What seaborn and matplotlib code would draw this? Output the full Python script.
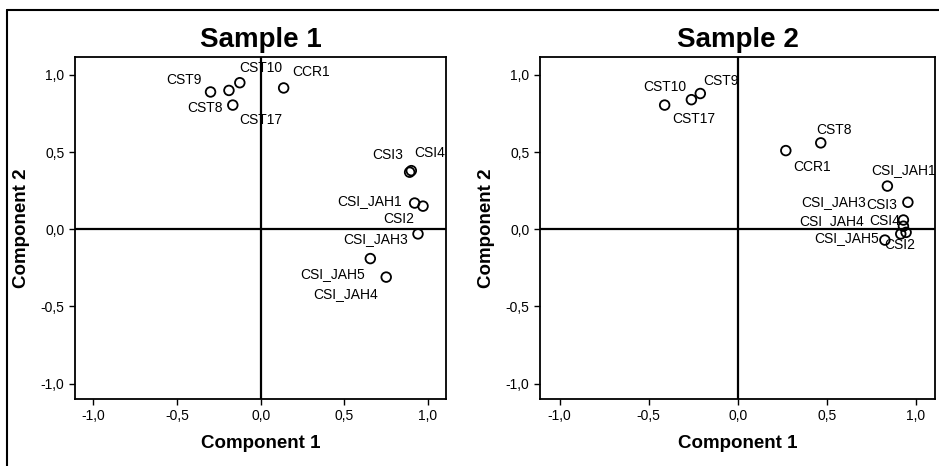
import matplotlib
matplotlib.use("Agg")
import matplotlib.pyplot as plt
from matplotlib.lines import Line2D
import seaborn as sns
import pandas as pd

# ---- data ----
s1_labels = ["CST9", "CST8", "CST10", "CST17", "CCR1", "CSI3", "CSI4",
             "CSI_JAH1", "CSI2", "CSI_JAH3", "CSI_JAH5", "CSI_JAH4"]
s1_comp1 = [-0.30, -0.19, -0.125, -0.167, 0.137, 0.89, 0.90,
            0.92, 0.97, 0.94, 0.655, 0.75]
s1_comp2 = [0.89, 0.90, 0.95, 0.805, 0.916, 0.37, 0.38,
            0.17, 0.15, -0.03, -0.19, -0.31]

s2_labels = ["CST10", "CST17", "CST9", "CCR1", "CST8", "CSI_JAH1", "CSI3",
             "CSI_JAH3", "CSI4", "CSI_JAH4", "CSI2", "CSI_JAH5"]
s2_comp1 = [-0.41, -0.26, -0.21, 0.27, 0.466, 0.84, 0.955,
            0.93, 0.93, 0.915, 0.945, 0.826]
s2_comp2 = [0.805, 0.84, 0.88, 0.51, 0.56, 0.28, 0.175,
            0.06, 0.02, -0.03, -0.02, -0.07]

tick_values = [-1.0, -0.5, 0.0, 0.5, 1.0]
tick_labels = ["-1,0", "-0,5", "0,0", "0,5", "1,0"]
titles = ["Sample 1", "Sample 2"]

# label offsets (pixels) relative to each point
s1_offsets = [(-27, 12), (-24, -18), (21, 15), (28, -15), (27, 16), (-22, 17),
              (18, 18), (-45, 2), (-24, -13), (-42, -5), (-38, -15), (-41, -17)]
s2_offsets = [(0, 18), (2, -19), (21, 13), (26, -16), (13, 13), (16, 16),
              (-26, -3), (-70, 18), (-19, 5), (-69, 13), (-6, -13), (-38, 2)]

sns.set_style("white")
plt.rcParams["font.family"] = ["Liberation Sans", "DejaVu Sans"]
plt.rcParams["text.color"] = "black"
plt.rcParams["axes.labelcolor"] = "black"
plt.rcParams["axes.titlecolor"] = "black"

fig = plt.figure(figsize=(9.39, 4.66), dpi=100)
ax1 = fig.add_axes([0.0799, 0.1438, 0.395, 0.734])
ax2 = fig.add_axes([0.575, 0.1438, 0.4207, 0.734])

datasets = [
    (ax1, s1_labels, s1_comp1, s1_comp2, s1_offsets, titles[0]),
    (ax2, s2_labels, s2_comp1, s2_comp2, s2_offsets, titles[1]),
]

for ax, labels, c1, c2, offs, title in datasets:
    df = pd.DataFrame({"Component 1": c1, "Component 2": c2, "label": labels})
    ax.axhline(0, color="black", lw=1.6, zorder=1)
    ax.axvline(0, color="black", lw=1.6, zorder=1)
    sns.scatterplot(data=df, x="Component 1", y="Component 2", ax=ax,
                    marker="o", s=48, facecolor="none", edgecolor="black",
                    linewidth=1.3, zorder=3)
    for (lab, x, y), (dx, dy) in zip(zip(labels, c1, c2), offs):
        ax.annotate(lab, (x, y), xytext=(dx, dy), textcoords="offset pixels",
                    ha="center", va="center", fontsize=10, color="black",
                    annotation_clip=False)
    ax.set_xlim(-1.11, 1.107)
    ax.set_ylim(-1.10, 1.117)
    ax.set_xticks(tick_values)
    ax.set_xticklabels(tick_labels)
    ax.set_yticks(tick_values)
    ax.set_yticklabels(tick_labels)
    ax.tick_params(axis="both", direction="out", length=4, width=1,
                   colors="black", labelsize=10, bottom=True, left=True,
                   top=False, right=False)
    for sp in ax.spines.values():
        sp.set_visible(True)
        sp.set_color("black")
        sp.set_linewidth(1.3)
    ax.set_xlabel("Component 1", fontsize=13.5, fontweight="bold", labelpad=8,
                  color="black")
    ax.set_ylabel("Component 2", fontsize=13.5, fontweight="bold", labelpad=8,
                  color="black")
    ax.set_title(title, fontsize=20, fontweight="bold", pad=7, color="black")

# figure frame
fig.add_artist(Line2D([7 / 939, 7 / 939], [0, 1 - 10 / 466], color="black",
                      lw=1.5, transform=fig.transFigure))
fig.add_artist(Line2D([7 / 939, 1], [1 - 10 / 466, 1 - 10 / 466], color="black",
                      lw=1.5, transform=fig.transFigure))

fig.savefig("out.png", dpi=100)
